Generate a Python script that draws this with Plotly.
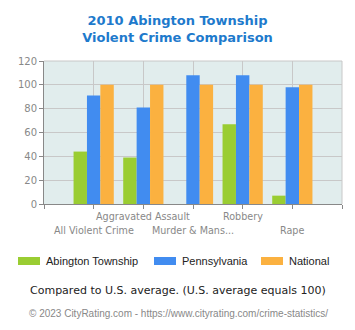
import plotly.graph_objects as go

categories = ["All Violent Crime", "Aggravated Assault", "Murder & Mans...", "Robbery", "Rape"]
series_names = ["Abington Township", "Pennsylvania", "National"]
abington = [44, 39, 0, 67, 7]
pennsylvania = [91, 81, 108, 108, 98]
national = [100, 100, 100, 100, 100]
y_ticks = [0, 20, 40, 60, 80, 100, 120]
colors = ["#9ACD32", "#418CF0", "#FBB140"]

xs = list(range(len(categories)))

fig = go.Figure()
for name, vals, col in zip(series_names, [abington, pennsylvania, national], colors):
    fig.add_bar(x=xs, y=vals, name=name, marker_color=col, marker_line_width=0)

fig.update_layout(
    width=355, height=330,
    margin=dict(l=44, r=13, t=61, b=126),
    paper_bgcolor="white", plot_bgcolor="#E1EDED",
    barmode="group", bargap=0.19, bargroupgap=0,
    title=dict(text="<b>2010 Abington Township<br>Violent Crime Comparison</b>",
               x=0.5, xanchor="center", xref="container", y=0.925, yanchor="middle", yref="container",
               font=dict(family="DejaVu Sans", size=13, color="#1E7ACC")),
    showlegend=False,
    font=dict(family="DejaVu Sans"),
)
fig.update_xaxes(
    range=[-1, 5], tickvals=list(range(-1, 6)), ticktext=[""] * 7,
    showgrid=True, gridcolor="#C8C8C8", showline=True, linecolor="#888",
    ticks="outside", ticklen=4, tickcolor="#888",
    tickfont=dict(family="DejaVu Sans", size=10, color="#888"),
    zeroline=False,
)
fig.update_yaxes(
    range=[0, 120], tickvals=y_ticks,
    showgrid=True, gridcolor="#C8C8C8", showline=True, linecolor="#888",
    ticks="outside", ticklen=4, tickcolor="#888",
    tickfont=dict(family="DejaVu Sans", size=10, color="#888"),
    zeroline=False,
)
fig.add_shape(type="line", xref="paper", yref="paper", x0=0, x1=1, y0=1, y1=1,
              line=dict(color="#C8C8C8", width=1))
fig.add_shape(type="line", xref="paper", yref="paper", x0=1, x1=1, y0=0, y1=1,
              line=dict(color="#C8C8C8", width=1))

# staggered category labels
for i, c in enumerate(categories):
    fig.add_annotation(text=c, x=i, xref="x", y=0, yref="paper", yanchor="middle",
                       yshift=-12 if i % 2 else -26, showarrow=False,
                       font=dict(family="DejaVu Sans", size=9.6, color="#888"))

# legend (manual)
def py(p):
    return (204 - p) / 143

swatch_x = [18, 154, 261]
for name, col, sx in zip(series_names, colors, swatch_x):
    fig.add_shape(type="rect", xref="paper", yref="paper",
                  x0=(sx - 44) / 298, x1=(sx + 22 - 44) / 298,
                  y0=py(265), y1=py(257), fillcolor=col, line_width=0)
    fig.add_annotation(text=name, xref="paper", yref="paper",
                       x=(sx + 26 - 44) / 298, xanchor="left", y=py(261), yanchor="middle",
                       showarrow=False,
                       font=dict(family="Liberation Sans", size=11, color="#222"))

fig.add_annotation(text="Compared to U.S. average. (U.S. average equals 100)",
                   xref="paper", yref="paper", x=0.5, xanchor="center",
                   y=py(290), yanchor="middle", showarrow=False,
                   font=dict(family="DejaVu Sans", size=11, color="#222"),
                   xshift=-15)
fig.add_annotation(text="© 2023 CityRating.com - https://www.cityrating.com/crime-statistics/",
                   xref="paper", yref="paper", x=0.5, xanchor="center",
                   y=py(313), yanchor="middle", showarrow=False,
                   font=dict(family="Liberation Sans", size=10, color="#888"),
                   xshift=-15)

fig.write_html("out.html")
